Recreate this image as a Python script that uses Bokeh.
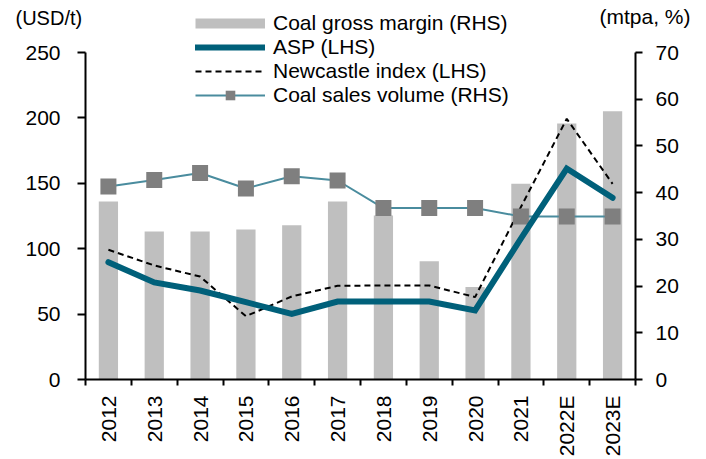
import math
from bokeh.plotting import figure
from bokeh.models import (Range1d, LinearAxis, FixedTicker, Legend, LegendItem,
                          Label, ColumnDataSource)
from bokeh.embed import file_html
from bokeh.resources import INLINE

years = ["2012", "2013", "2014", "2015", "2016", "2017", "2018", "2019",
         "2020", "2021", "2022E", "2023E"]
gross_margin = [38.1, 31.7, 31.7, 32.1, 33.0, 38.1, 35.1, 25.3, 19.8, 41.9, 54.8, 57.4]
asp = [89.7, 74.2, 68.0, 59.1, 50.2, 59.6, 59.6, 59.6, 52.8, 107.8, 161.3, 138.9]
newcastle = [99.2, 87.2, 78.7, 48.4, 63.5, 71.6, 71.9, 71.9, 63.0, 131.9, 199.3, 149.6]
sales_volume = [41.3, 42.7, 44.2, 40.9, 43.5, 42.6, 36.7, 36.7, 36.7, 34.9, 34.9, 34.9]
lhs_ticks = [0, 50, 100, 150, 200, 250]
rhs_ticks = [0, 10, 20, 30, 40, 50, 60, 70]

FONT = "Liberation Sans"
W, H = 706, 459
# plot-area box inside the canvas (pixels)
L, R, T, B = 85, 635, 52, 379
n = len(years)
LMAX, RMAX = 250.0, 70.0
xpx = (R - L) / n
lpx = (B - T) / LMAX
rpx = (B - T) / RMAX

xs = [i + 0.5 for i in range(n)]
src = ColumnDataSource(dict(x=xs, gm=gross_margin, asp=asp, nc=newcastle, sv=sales_volume))

p = figure(width=W, height=H, min_border=0,
           x_range=Range1d(-L / xpx, n + (W - R) / xpx),
           y_range=Range1d(-(H - B) / lpx, LMAX + T / lpx),
           output_backend="svg", toolbar_location=None, x_axis_location=None,
           y_axis_location=None)
p.extra_y_ranges = {"rhs": Range1d(-(H - B) / rpx, RMAX + T / rpx)}
p.xgrid.visible = False
p.ygrid.visible = False
p.outline_line_color = None
p.background_fill_color = "white"
p.border_fill_color = "white"

bars = p.vbar(x="x", top="gm", width=0.42, source=src, y_range_name="rhs",
              fill_color="#BFBFBF", line_color=None)
nc_r = p.line("x", "nc", source=src, line_color="black", line_width=2, line_dash="6 4")
sv_l = p.line("x", "sv", source=src, y_range_name="rhs", line_color="#4A8C9E", line_width=2)
sv_m = p.scatter("x", "sv", source=src, y_range_name="rhs", marker="square", size=16,
                 fill_color="#7F7F7F", line_color=None)
asp_r = p.line("x", "asp", source=src, line_color="#00607A", line_width=6,
               line_join="miter", line_cap="round")

# legend swatch for the bars: a one-point line (draws nothing in the plot)
gm_proxy = p.line(x=xs[:1], y=gross_margin[:1], y_range_name="rhs",
                  line_color="#BFBFBF", line_width=10, line_cap="butt")

# axes (fixed at the plot-area edges)
xax = LinearAxis(ticker=FixedTicker(ticks=xs, minor_ticks=list(range(n + 1))),
                 major_label_overrides={x: y for x, y in zip(xs, years)},
                 fixed_location=0, bounds=(0, n))
xax.major_tick_line_color = None
xax.major_tick_out = 6
xax.minor_tick_in = 0
xax.minor_tick_out = 6
xax.minor_tick_line_color = "black"
xax.minor_tick_line_width = 2
xax.major_label_orientation = math.pi / 2
xax.major_label_standoff = 10
xax.major_label_text_font = FONT
xax.major_label_text_font_size = "21px"
xax.major_label_text_color = "black"
xax.axis_line_color = "black"
xax.axis_line_width = 2
p.add_layout(xax, "below")

lax = LinearAxis(ticker=FixedTicker(ticks=lhs_ticks), fixed_location=0, bounds=(0, LMAX))
rax = LinearAxis(ticker=FixedTicker(ticks=rhs_ticks), y_range_name="rhs",
                 fixed_location=n, bounds=(0, RMAX))
for ax, out, so in ((lax, 8, 17), (rax, 7, 13)):
    ax.major_tick_in = 0
    ax.major_tick_out = out
    ax.major_tick_line_width = 2
    ax.major_tick_line_color = "black"
    ax.minor_tick_line_color = None
    ax.axis_line_color = "black"
    ax.axis_line_width = 2
    ax.major_label_standoff = so
    ax.major_label_text_font = FONT
    ax.major_label_text_font_size = "21px"
    ax.major_label_text_color = "black"
p.add_layout(lax, "left")
p.add_layout(rax, "right")

legend = Legend(items=[
    LegendItem(label="Coal gross margin (RHS)", renderers=[gm_proxy]),
    LegendItem(label="ASP (LHS)", renderers=[asp_r]),
    LegendItem(label="Newcastle index (LHS)", renderers=[nc_r]),
    LegendItem(label="Coal sales volume (RHS)", renderers=[sv_l, sv_m]),
], location=(195, H - 107))
legend.padding = 0
legend.margin = 0
legend.spacing = 0
legend.glyph_width = 70
legend.glyph_height = 24
legend.label_height = 24
legend.label_standoff = 8
legend.border_line_color = None
legend.background_fill_alpha = 0
legend.label_text_font = FONT
legend.label_text_font_size = "21px"
legend.label_text_color = "black"
p.add_layout(legend, "center")

p.add_layout(Label(x=(15 - L) / xpx, y=LMAX + (T - 17) / lpx, text="(USD/t)",
                   text_font=FONT, text_font_size="20px", text_baseline="middle",
                   text_align="left", text_color="black"))
p.add_layout(Label(x=n + (690 - R) / xpx, y=LMAX + (T - 16) / lpx, text="(mtpa, %)",
                   text_font=FONT, text_font_size="21px", text_baseline="middle",
                   text_align="right", text_color="black"))

open("out.html", "w").write(file_html(p, INLINE))
